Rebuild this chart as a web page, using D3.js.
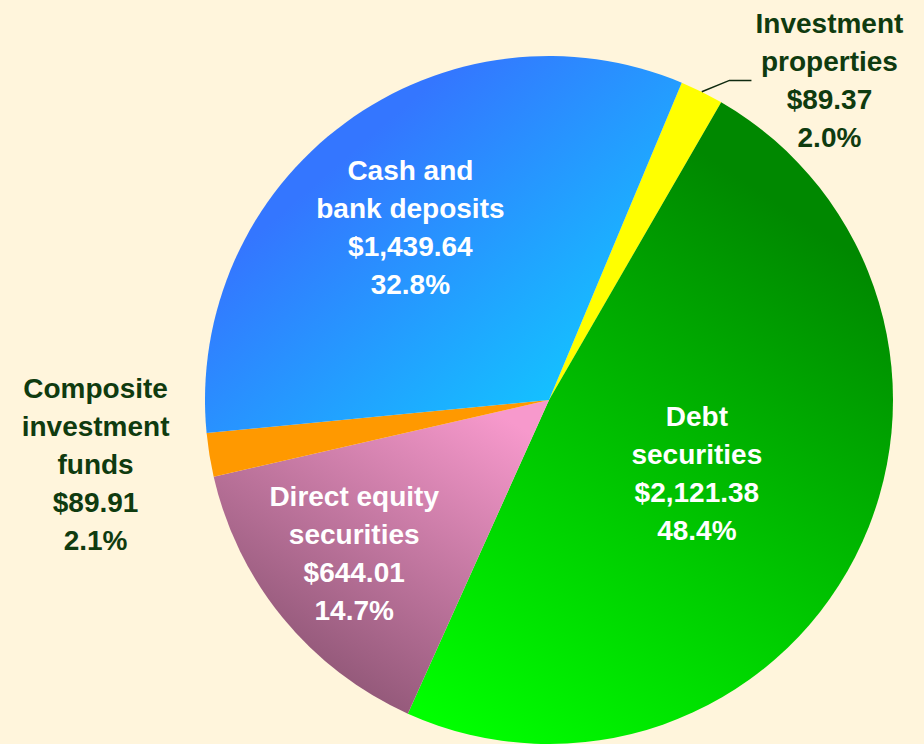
<!DOCTYPE html>
<html>
<head>
<meta charset="utf-8">
<script src="https://cdnjs.cloudflare.com/ajax/libs/d3/7.8.5/d3.min.js"></script>
<style>
body { margin: 0; background: #fff5dc; }
svg { display: block; }
text { font-family: Arial, "Liberation Sans", sans-serif; font-weight: bold; font-size: 28px; }
</style>
</head>
<body>
<div id="chart"></div>
<script>
// Pie of assets, slices drawn clockwise starting just right of 12 o'clock

var categories = ["Investment properties", "Debt securities", "Direct equity securities",
                  "Composite investment funds", "Cash and bank deposits"];
var nameLines = [["Investment", "properties"], ["Debt", "securities"], ["Direct equity", "securities"],
                 ["Composite", "investment", "funds"], ["Cash and", "bank deposits"]];
var values = [89.37, 2121.38, 644.01, 89.91, 1439.64];

var width = 924,
    height = 744;
var cx = 549, cy = 400, radius = 344;
var startDeg = 22.7;
var lineHeight = 38;

// label placement: [radius ratio, angle shift from slice middle in degrees], inside or not
var labelPlace = [
    { r: 1.236, shift: 14.9, inside: false, leader: true },
    { r: 0.48, shift: -0.7, inside: true },
    { r: 0.72, shift: 1.2, inside: true },
    { r: 1.331, shift: 1.2, inside: false },
    { r: 0.643, shift: -2.4, inside: true }
];

// slice fills: flat colour or gradient stops with direction (relative to centre, in radii)
var fills = [
    { flat: "#ffff00" },
    { from: [0.7, -0.55], to: [-0.3, 0.95], c0: "#008800", c1: "#00ff00" },
    { from: [-0.05, 0.1], to: [-0.55, 0.9], c0: "#f799cc", c1: "#8f5676" },
    { flat: "#ff9900" },
    { from: [-0.6, -0.7], to: [0.05, 0.05], c0: "#3476ff", c1: "#12c6ff" }
];

var total = d3.sum(values);
var fmtMoney = d3.format("$,.2f");
var fmtPct = d3.format(".1%");

var svg = d3.select("#chart").append("svg")
    .attr("width", width)
    .attr("height", height);

svg.append("rect")
    .attr("width", width)
    .attr("height", height)
    .attr("fill", "#fff5dc");

// gradients are in the pie group's coordinates (origin at pie centre)
var defs = svg.append("defs");
fills.forEach(function(f, i) {
    if (f.flat) return;
    var gr = defs.append("linearGradient")
        .attr("id", "grad" + i)
        .attr("gradientUnits", "userSpaceOnUse")
        .attr("x1", f.from[0] * radius)
        .attr("y1", f.from[1] * radius)
        .attr("x2", f.to[0] * radius)
        .attr("y2", f.to[1] * radius);
    gr.append("stop").attr("offset", 0).attr("stop-color", f.c0);
    gr.append("stop").attr("offset", 1).attr("stop-color", f.c1);
});

var startA = startDeg * Math.PI / 180;
var pie = d3.pie()
    .sort(null)
    .startAngle(startA)
    .endAngle(startA + 2 * Math.PI);

var arcs = pie(values);

var arc = d3.arc()
    .innerRadius(0)
    .outerRadius(radius);

var g = svg.append("g")
    .attr("transform", "translate(" + cx + "," + cy + ")");

g.selectAll(".slice")
    .data(arcs)
  .enter().append("path")
    .attr("class", "slice")
    .attr("d", arc)
    .style("fill", function(d, i) { return fills[i].flat ? fills[i].flat : "url(#grad" + i + ")"; })
    .style("stroke", "none");

function polar(a, r) {
    return [Math.sin(a) * r, -Math.cos(a) * r];
}

// Labels
arcs.forEach(function(d, i) {
    var p = labelPlace[i];
    var mid = (d.startAngle + d.endAngle) / 2;
    var pos = polar(mid + p.shift * Math.PI / 180, p.r * radius);
    var lines = nameLines[i].concat([fmtMoney(values[i]), fmtPct(values[i] / total)]);
    var top = pos[1] - (lines.length - 1) / 2 * lineHeight;

    var t = g.append("text")
        .attr("text-anchor", "middle")
        .attr("fill", p.inside ? "#ffffff" : "#0f3b0f");
    lines.forEach(function(s, k) {
        t.append("tspan")
            .attr("x", pos[0])
            .attr("y", top + k * lineHeight)
            .attr("dy", "0.35em")
            .text(s);
    });

    if (p.leader) {
        var edge = polar(mid, radius);
        g.append("polyline")
            .attr("points", [edge, [pos[0] - 100, pos[1]], [pos[0] - 78, pos[1]]].join(" "))
            .attr("fill", "none")
            .attr("stroke", "#0f2a0f")
            .attr("stroke-width", 1.5);
    }
});
</script>
</body>
</html>
